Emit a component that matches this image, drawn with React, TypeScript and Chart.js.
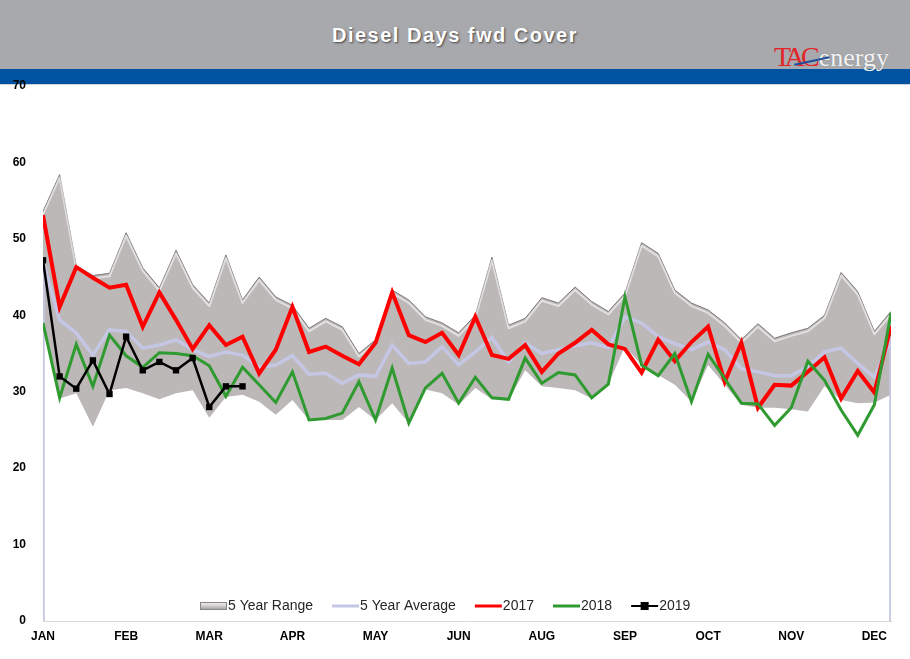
import React, { useEffect, useRef } from "react";
import { Chart, registerables } from "chart.js";

Chart.register(...registerables);

// ---- data (weekly, 52 weeks) ----
const monthTicks = ["JAN", "FEB", "MAR", "APR", "MAY", "JUN", "AUG", "SEP", "OCT", "NOV", "DEC"];
const weeksPerTick = 5;

const rangeMax = [
  53.6, 58.4, 46.5, 45.2, 45.5, 50.8, 46.2, 43.6, 48.5, 44.0,
  41.6, 47.9, 42.0, 45.0, 42.4, 41.3, 38.3, 39.6, 38.5, 35.0,
  36.8, 43.3, 42.0, 39.8, 39.0, 37.7, 40.0, 47.6, 38.7, 39.6,
  42.3, 41.6, 43.7, 41.8, 40.5, 42.9, 49.5, 48.1, 43.3, 41.6,
  40.7, 39.0, 36.8, 38.9, 37.0, 37.7, 38.3, 40.0, 45.6, 43.1,
  37.9, 40.5,
];
const rangeMin = [
  39.0, 29.1, 29.8, 25.4, 30.2, 30.5, 29.8, 29.0, 29.8, 30.2,
  26.6, 29.3, 29.6, 28.7, 27.0, 28.9, 26.3, 26.3, 26.3, 28.0,
  26.3, 28.5, 25.9, 30.3, 29.8, 28.3, 30.5, 29.0, 28.9, 32.8,
  30.7, 30.5, 30.2, 29.1, 31.0, 35.9, 33.5, 32.2, 30.9, 28.7,
  33.5, 30.9, 28.3, 27.9, 27.9, 27.7, 27.4, 30.7, 28.9, 28.5,
  28.6, 29.6,
];
const avg5 = [
  47.0, 39.4, 37.7, 34.8, 38.1, 37.9, 35.7, 36.1, 36.8, 35.5,
  34.6, 35.2, 34.8, 33.2, 33.5, 34.7, 32.3, 32.4, 31.1, 32.2,
  32.0, 36.1, 33.7, 33.9, 35.9, 33.5, 35.2, 37.1, 33.9, 36.4,
  35.0, 35.5, 36.0, 36.4, 35.8, 39.8, 39.0, 37.2, 36.3, 35.5,
  36.5, 35.5, 33.0, 32.6, 32.1, 32.1, 33.3, 35.2, 35.7, 33.7,
  31.9, 36.8,
];
const avgEdgeValue = 0;
const y2017 = [
  53.1, 41.1, 46.3, 44.9, 43.6, 44.0, 38.5, 43.0, 39.4, 35.6,
  38.7, 36.1, 37.2, 32.4, 35.5, 41.1, 35.2, 35.9, 34.7, 33.6,
  36.4, 43.0, 37.4, 36.5, 37.7, 34.8, 39.8, 34.8, 34.3, 36.1,
  32.6, 35.0, 36.4, 38.1, 36.2, 35.6, 32.5, 36.8, 34.0, 36.5,
  38.5, 31.3, 36.4, 27.9, 30.9, 30.8, 32.6, 34.5, 29.1, 32.7,
  29.9, 38.6,
];
const y2018 = [
  39.0, 29.2, 36.2, 30.7, 37.4, 34.7, 33.2, 35.1, 35.0, 34.7,
  33.4, 29.4, 33.2, 30.9, 28.6, 32.6, 26.3, 26.5, 27.2, 31.3,
  26.3, 33.1, 25.9, 30.5, 32.4, 28.5, 31.9, 29.2, 29.0, 34.4,
  31.1, 32.5, 32.2, 29.2, 31.0, 42.4, 33.5, 32.1, 35.0, 28.7,
  34.9, 31.7, 28.5, 28.4, 25.6, 27.9, 34.0, 31.5, 27.6, 24.3,
  28.3, 40.3,
];
const y2019 = [47.2, 32.0, 30.4, 34.1, 29.7, 37.2, 32.8, 33.9, 32.8, 34.4, 28.0, 30.7, 30.7];

// ---- styles ----
const RANGE_FILL = "rgb(188,184,184)";
const RANGE_EDGE = "rgb(125,120,120)";
const AVG_COLOR = "rgb(196,198,228)";
const RED = "#ff0000";
const GREEN = "#2f9a2f";
const BLACK = "#000000";

const toXY = (arr: number[]) => arr.map((y, i) => ({ x: i, y }));

// soft white bevel highlight just inside the top edge of the range area
const bevelPlugin = {
  id: "rangeBevel",
  afterDatasetDraw(chart: any, args: any) {
    if (chart.data.datasets[args.index].label !== "5 Year Range") return;
    const pts = args.meta.data;
    const ctx = chart.ctx as CanvasRenderingContext2D;
    ctx.save();
    ctx.beginPath();
    ctx.rect(chart.chartArea.left, chart.chartArea.top, chart.chartArea.right - chart.chartArea.left, chart.chartArea.bottom - chart.chartArea.top);
    ctx.clip();
    ctx.strokeStyle = "rgba(255,255,255,0.55)";
    ctx.lineWidth = 2;
    ctx.lineJoin = "round";
    ctx.beginPath();
    pts.forEach((p: any, i: number) => {
      if (i === 0) ctx.moveTo(p.x, p.y + 3);
      else ctx.lineTo(p.x, p.y + 3);
    });
    ctx.stroke();
    ctx.restore();
  },
};

const legendPlugin = {
  id: "customLegend",
  afterDraw(chart: any) {
    const ctx = chart.ctx as CanvasRenderingContext2D;
    const y = 606;
    let x = 200;
    ctx.save();
    ctx.font = '14px "Liberation Sans", Arial, sans-serif';
    ctx.textBaseline = "middle";
    ctx.textAlign = "left";
    const items = [
      { label: "5 Year Range", kind: "box" },
      { label: "5 Year Average", kind: "line", color: AVG_COLOR, width: 3 },
      { label: "2017", kind: "line", color: RED, width: 3 },
      { label: "2018", kind: "line", color: GREEN, width: 3 },
      { label: "2019", kind: "marker", color: BLACK, width: 2 },
    ];
    for (const it of items) {
      const w = 27;
      if (it.kind === "box") {
        const g = ctx.createLinearGradient(0, y - 4, 0, y + 4);
        g.addColorStop(0, "#f4f4f4");
        g.addColorStop(0.5, "#d0cdcd");
        g.addColorStop(1, "#9a9696");
        ctx.fillStyle = g;
        ctx.fillRect(x, y - 4, w, 8);
        ctx.strokeStyle = "#8a8686";
        ctx.lineWidth = 1;
        ctx.strokeRect(x + 0.5, y - 3.5, w - 1, 7);
      } else {
        ctx.strokeStyle = it.color as string;
        ctx.lineWidth = it.width as number;
        ctx.beginPath();
        ctx.moveTo(x, y);
        ctx.lineTo(x + w, y);
        ctx.stroke();
        if (it.kind === "marker") {
          ctx.fillStyle = BLACK;
          ctx.fillRect(x + w / 2 - 4, y - 4, 8, 8);
        }
      }
      x += w + 1;
      ctx.fillStyle = "#262626";
      ctx.fillText(it.label, x, y);
      x += ctx.measureText(it.label).width + 19;
    }
    ctx.restore();
  },
};

export default function App() {
  const canvasRef = useRef<HTMLCanvasElement | null>(null);

  useEffect(() => {
    const canvas = canvasRef.current;
    if (!canvas) return;
    const avgData = [
      { x: 0, y: avgEdgeValue },
      ...toXY(avg5),
      { x: avg5.length - 1, y: avgEdgeValue },
    ];
    const chart = new Chart(canvas, {
      type: "line",
      data: {
        datasets: [
          {
            label: "2019",
            data: toXY(y2019),
            borderColor: BLACK,
            backgroundColor: BLACK,
            borderWidth: 2.5,
            pointStyle: "rect",
            pointRadius: 4.5,
            pointBackgroundColor: BLACK,
            pointBorderWidth: 0,
            tension: 0,
            fill: false,
            order: 0,
          },
          {
            label: "2018",
            data: toXY(y2018),
            borderColor: GREEN,
            borderWidth: 3,
            pointRadius: 0,
            tension: 0,
            fill: false,
            order: 1,
          },
          {
            label: "2017",
            data: toXY(y2017),
            borderColor: RED,
            borderWidth: 4,
            pointRadius: 0,
            tension: 0,
            fill: false,
            order: 2,
          },
          {
            label: "5 Year Average",
            data: avgData,
            borderColor: AVG_COLOR,
            borderWidth: 3.5,
            pointRadius: 0,
            tension: 0,
            fill: false,
            order: 3,
          },
          {
            label: "5 Year Range",
            data: toXY(rangeMax),
            borderColor: RANGE_EDGE,
            borderWidth: 1,
            backgroundColor: RANGE_FILL,
            pointRadius: 0,
            tension: 0,
            fill: { target: 5 },
            order: 4,
          },
          {
            label: "range-min",
            data: toXY(rangeMin),
            borderColor: "rgba(0,0,0,0)",
            borderWidth: 0,
            pointRadius: 0,
            tension: 0,
            fill: false,
            order: 5,
          },
        ],
      },
      options: {
        responsive: false,
        devicePixelRatio: 1,
        animation: false,
        events: [],
        layout: { padding: { top: 86, right: 19, left: 0, bottom: 0 } },
        plugins: {
          legend: { display: false },
          tooltip: { enabled: false },
          title: { display: false },
        },
        scales: {
          x: {
            type: "linear",
            min: 0,
            max: rangeMax.length - 1,
            grid: { display: false, drawTicks: false },
            border: { display: true, color: "#d9d9d9", width: 1 },
            afterBuildTicks: (scale: any) => {
              scale.ticks = monthTicks.map((_, i) => ({ value: i * weeksPerTick }));
            },
            afterFit: (scale: any) => {
              scale.height = 38;
              scale.paddingLeft = 0;
              scale.paddingRight = 0;
            },
            ticks: {
              autoSkip: false,
              maxRotation: 0,
              padding: 8,
              color: "#000",
              font: { family: '"Liberation Sans", Arial, sans-serif', size: 12, weight: "bold" },
              callback: (v: any) => monthTicks[Math.round(Number(v) / weeksPerTick)] ?? "",
            },
          },
          y: {
            min: 0,
            max: 70,
            grid: { display: false, drawTicks: false },
            border: { display: false },
            afterFit: (scale: any) => {
              scale.width = 43;
            },
            ticks: {
              stepSize: 10,
              padding: 17,
              color: "#000",
              font: { family: '"Liberation Sans", Arial, sans-serif', size: 12, weight: "bold" },
            },
          },
        },
      },
      plugins: [bevelPlugin, legendPlugin],
    } as any);
    return () => chart.destroy();
  }, []);

  return (
    <div style={{ position: "fixed", left: 0, top: 0, width: 910, height: 659, background: "#fff", overflow: "hidden" }}>
      <div style={{ position: "absolute", left: 0, top: 0, width: 910, height: 69, background: "#a8a9ad" }} />
      <div style={{ position: "absolute", left: 0, top: 69, width: 910, height: 15, background: "#0053a0" }} />
      <div style={{ position: "absolute", left: 0, top: 84, width: 910, height: 1, background: "#d0d4dc" }} />
      <div
        style={{
          position: "absolute",
          left: 0,
          top: 22,
          width: 910,
          textAlign: "center",
          color: "#fff",
          fontFamily: '"Liberation Sans", Arial, sans-serif',
          fontWeight: "bold",
          fontSize: 20,
          letterSpacing: 1.5,
          lineHeight: "26px",
          textShadow: "1px 1px 2px rgba(0,0,0,0.6)",
        }}
      >
        Diesel Days fwd Cover
      </div>
      <div
        style={{
          position: "absolute",
          left: 774,
          top: 42,
          whiteSpace: "nowrap",
          fontFamily: '"Liberation Serif", "Times New Roman", serif',
          lineHeight: "30px",
        }}
      >
        <span style={{ color: "#e0262b", fontSize: 28, letterSpacing: -4 }}>TAC</span>
        <span style={{ color: "#f4f4f4", fontSize: 26, marginLeft: 3, textShadow: "0 0 1px rgba(90,90,90,0.6)" }}>energy</span>
        <div
          style={{
            position: "absolute",
            left: 20,
            top: 18,
            width: 36,
            height: 2,
            background: "#1f4e9a",
            transform: "rotate(-12deg)",
          }}
        />
      </div>
      <canvas ref={canvasRef} width={910} height={659} style={{ position: "absolute", left: 0, top: 0 }} />
    </div>
  );
}
